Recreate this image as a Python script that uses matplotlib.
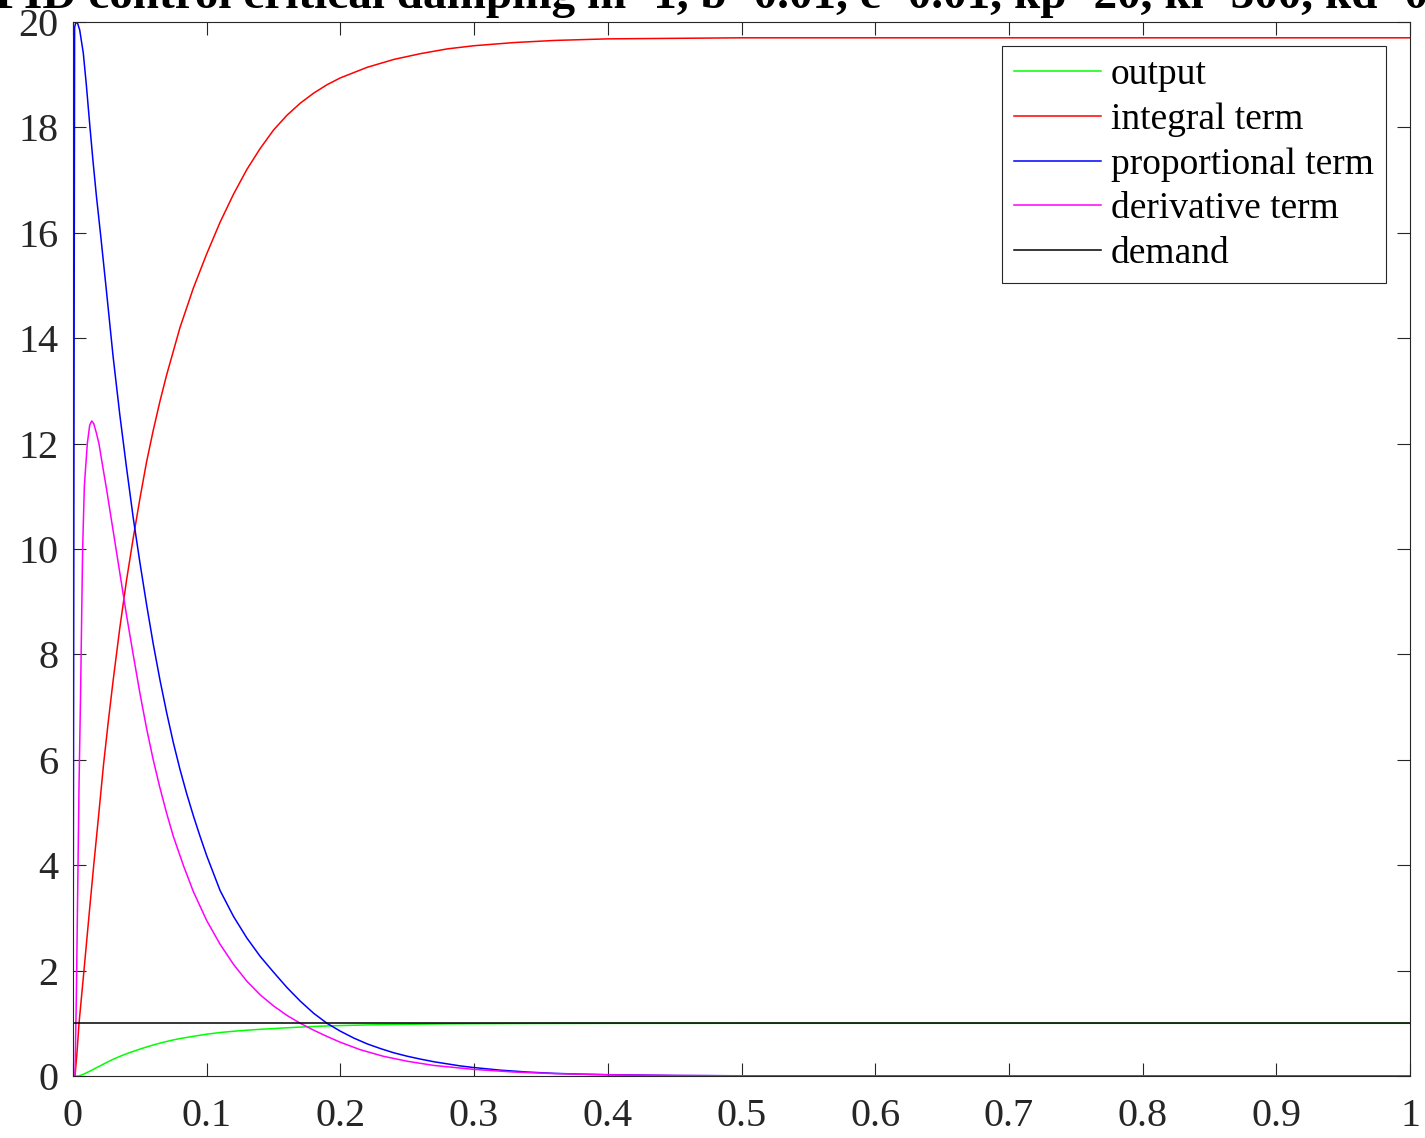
import matplotlib
matplotlib.use("Agg")
import matplotlib.pyplot as plt

plt.rcParams['font.family'] = ['Liberation Serif', 'DejaVu Serif']

title = "PID control critical damping m=1, b=0.01, c=0.01, kp=20, ki=300, kd=0.95"

# output (green)
t_out = [0, 0.004, 0.006, 0.008, 0.010, 0.0127, 0.0152, 0.018, 0.0207, 0.025, 0.030,
         0.035, 0.040, 0.045, 0.050, 0.055, 0.060, 0.065, 0.070, 0.075, 0.080,
         0.090, 0.100, 0.110, 0.120, 0.130, 0.140, 0.150, 0.160, 0.170, 0.180,
         0.190, 0.200, 0.220, 0.240, 0.260, 0.280, 0.300, 0.340, 0.400, 0.500, 1.0]
v_out = [0, 0, 0.015, 0.035, 0.06, 0.092, 0.125, 0.163, 0.198, 0.255, 0.317,
         0.372, 0.422, 0.467, 0.51, 0.55, 0.588, 0.623, 0.655, 0.684, 0.71,
         0.753, 0.793, 0.825, 0.849, 0.869, 0.886, 0.90, 0.915, 0.928, 0.94,
         0.95, 0.957, 0.969, 0.978, 0.984, 0.989, 0.992, 0.996, 0.999, 1.0, 1.0]

# integral term (red)
t_int = [0, 0.0015, 0.003, 0.0045, 0.0082, 0.012, 0.0155, 0.019, 0.0228, 0.0265,
         0.030, 0.035, 0.040, 0.045, 0.050, 0.055, 0.060, 0.065, 0.070, 0.075,
         0.080, 0.090, 0.100, 0.110, 0.120, 0.130, 0.140, 0.150, 0.160, 0.170,
         0.180, 0.190, 0.200, 0.220, 0.240, 0.260, 0.280, 0.300, 0.330, 0.360,
         0.400, 0.450, 0.500, 1.0]
v_int = [0, 0, 0.45, 1.0, 2.0, 3.05, 4.0, 4.9, 5.9, 6.75,
         7.5, 8.5, 9.4, 10.2, 10.95, 11.65, 12.25, 12.8, 13.3, 13.75,
         14.2, 14.95, 15.6, 16.2, 16.73, 17.2, 17.6, 17.95, 18.23, 18.46,
         18.65, 18.81, 18.94, 19.14, 19.29, 19.4, 19.49, 19.55, 19.61, 19.65,
         19.68, 19.69, 19.7, 19.7]

# proportional term (blue)
t_prop = [0, 0.0012, 0.0022, 0.0035, 0.005, 0.0077, 0.010, 0.0127, 0.015, 0.0175,
          0.0207, 0.025, 0.030, 0.035, 0.040, 0.045, 0.050, 0.055, 0.060, 0.065,
          0.070, 0.075, 0.080, 0.085, 0.090, 0.095, 0.100, 0.110, 0.120, 0.130,
          0.140, 0.150, 0.160, 0.170, 0.180, 0.190, 0.200, 0.210, 0.220, 0.230,
          0.240, 0.250, 0.260, 0.270, 0.280, 0.290, 0.300, 0.320, 0.340, 0.360,
          0.380, 0.400, 0.450, 0.500, 0.600, 1.0]
v_prop = [0, 19.9, 20, 19.97, 19.85, 19.41, 18.8, 18.0, 17.35, 16.7,
          15.95, 14.9, 13.65, 12.55, 11.55, 10.6, 9.75, 8.95, 8.2, 7.52,
          6.9, 6.33, 5.82, 5.36, 4.94, 4.55, 4.18, 3.52, 3.03, 2.62,
          2.27, 1.97, 1.68, 1.42, 1.19, 1.0, 0.85, 0.72, 0.61, 0.52,
          0.44, 0.375, 0.32, 0.27, 0.23, 0.19, 0.16, 0.11, 0.075, 0.05,
          0.035, 0.025, 0.01, 0.004, 0.001, 0]

# derivative term (magenta)
t_der = [0, 0.0015, 0.0025, 0.0035, 0.0045, 0.0057, 0.0072, 0.0085, 0.0107, 0.0125,
         0.014, 0.0155, 0.0175, 0.0194, 0.022, 0.025, 0.030, 0.035, 0.040, 0.045,
         0.050, 0.055, 0.060, 0.065, 0.070, 0.075, 0.0825, 0.090, 0.100, 0.110,
         0.120, 0.130, 0.140, 0.150, 0.160, 0.170, 0.180, 0.190, 0.200, 0.2147,
         0.232, 0.250, 0.270, 0.300, 0.330, 0.360, 0.400, 0.450, 0.500, 0.600, 1.0]
v_der = [0, 0, 1.5, 3.5, 5.5, 7.3, 10, 11.2, 12, 12.35,
         12.43, 12.38, 12.2, 12, 11.6, 11.15, 10.35, 9.55, 8.75, 8.0,
         7.27, 6.6, 6.0, 5.47, 4.99, 4.55, 4.0, 3.5, 2.95, 2.5,
         2.12, 1.8, 1.54, 1.33, 1.15, 1.0, 0.87, 0.75, 0.64, 0.5,
         0.375, 0.28, 0.2, 0.125, 0.075, 0.045, 0.022, 0.009, 0.003, 0.0005, 0]

# demand (black)
t_dem = [0, 1.0]
v_dem = [1, 1]

labels = ["output", "integral term", "proportional term", "derivative term", "demand"]
colors = ["#00ff00", "#ff0000", "#0000ff", "#ff00ff", "#000000"]

W, H = 1425, 1138
fig = plt.figure(figsize=(W / 100, H / 100), dpi=100)
ax = fig.add_axes([73 / W, 62 / H, 1337 / W, 1054 / H])

series = [(t_out, v_out), (t_int, v_int), (t_prop, v_prop), (t_der, v_der), (t_dem, v_dem)]
for (t, v), lab, c in zip(series, labels, colors):
    ax.plot(t, v, color=c, lw=1.1, label=lab)

ax.set_xlim(0, 1)
ax.set_ylim(0, 20)
ax.set_xticks([i / 10 for i in range(11)])
ax.set_xticklabels(["0", "0.1", "0.2", "0.3", "0.4", "0.5", "0.6", "0.7", "0.8", "0.9", "1"])
ax.set_yticks(list(range(0, 21, 2)))
ax.tick_params(direction='in', top=True, right=True, length=9.5, width=0.8,
               color='#262626', labelcolor='#262626', labelsize=29)
ax.tick_params(axis='x', pad=16)
ax.tick_params(axis='y', pad=10.5)
for s in ax.spines.values():
    s.set_linewidth(0.8)
    s.set_color('#262626')

leg = ax.legend(loc='upper right', fontsize=27, frameon=True, fancybox=False,
                framealpha=1, edgecolor='#262626', borderaxespad=0.64,
                handlelength=2.32, handletextpad=0.28, labelspacing=0.27, borderpad=0.32)
leg.get_frame().set_linewidth(0.8)

fig.text((73 + 1410) / 2 / W, 1 - 8 / H, title, ha='center', va='baseline',
         fontsize=34, fontweight='bold')

fig.savefig("out.png", dpi=100)
